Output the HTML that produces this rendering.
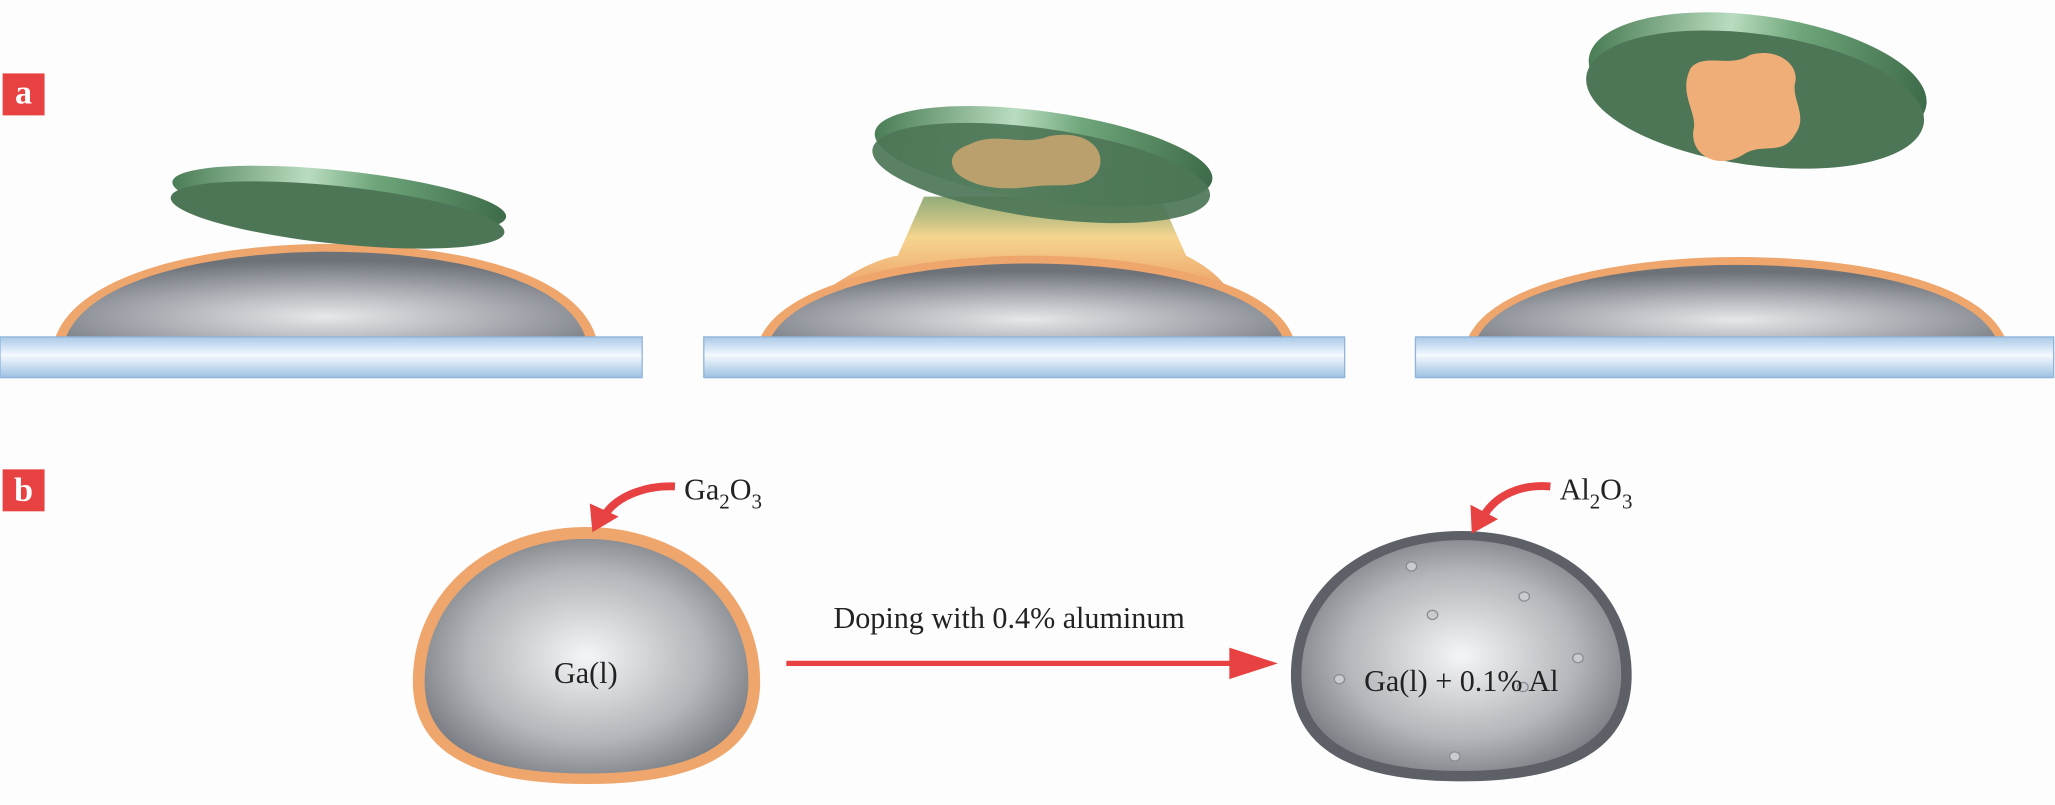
<!DOCTYPE html>
<html><head><meta charset="utf-8"><style>
html,body{margin:0;padding:0;background:#fdfdfd;}
svg{display:block;}
text{font-family:"Liberation Serif",serif;fill:#222;}
</style></head><body>
<svg width="2055" height="805" viewBox="0 0 1568 614" preserveAspectRatio="none" xmlns="http://www.w3.org/2000/svg">
<defs>
<linearGradient id="bar" x1="0" y1="0" x2="0" y2="1">
<stop offset="0" stop-color="#a9c9e8"/><stop offset="0.45" stop-color="#f4f9fd"/><stop offset="1" stop-color="#9dc0e3"/></linearGradient>
<radialGradient id="drop" cx="0.5" cy="0.75" r="0.65">
<stop offset="0" stop-color="#e6e8ea"/><stop offset="0.6" stop-color="#a0a4aa"/><stop offset="1" stop-color="#6d7178"/></radialGradient>
<radialGradient id="dropb" cx="0.5" cy="0.5" r="0.6">
<stop offset="0" stop-color="#f4f5f6"/><stop offset="0.6" stop-color="#b3b6ba"/><stop offset="1" stop-color="#6f7379"/></radialGradient>
<linearGradient id="rim" x1="0" y1="0" x2="1" y2="0">
<stop offset="0" stop-color="#4a7d55"/><stop offset="0.4" stop-color="#b9dcc0"/><stop offset="0.6" stop-color="#6ea67a"/><stop offset="1" stop-color="#3e6b4a"/></linearGradient>
<linearGradient id="glow" x1="0" y1="0" x2="0" y2="1">
<stop offset="0" stop-color="#7a9a5a" stop-opacity="0.8"/><stop offset="0.45" stop-color="#f5d590"/><stop offset="1" stop-color="#eea66c"/></linearGradient>
</defs>

<rect x="2" y="56" width="32" height="32" fill="#e84142"/>
<text x="18" y="79" font-size="26" text-anchor="middle" style="fill:#fff;font-weight:bold">a</text>
<rect x="2" y="358" width="32" height="32" fill="#e84142"/>
<text x="18" y="382" font-size="26" text-anchor="middle" style="fill:#fff;font-weight:bold">b</text>

<!-- Panel 1 -->
<path d="M42,258 C60,205 170,186 250,186 C340,186 440,205 455,258 Z" fill="#eea66c"/>
<path d="M50,258 C68,210 170,192 250,192 C335,192 432,210 447,258 Z" fill="url(#drop)"/>
<g transform="rotate(6 258 160)">
<ellipse cx="258" cy="152" rx="128" ry="22" fill="url(#rim)"/>
<ellipse cx="258" cy="164" rx="128" ry="22" fill="#4d7657"/>
</g>
<rect x="0" y="257" width="490" height="31" fill="url(#bar)" stroke="#8fb4da"/>

<!-- Panel 2 -->
<path d="M705,150 L885,150 L905,195 Q925,205 935,218 L635,218 Q665,198 685,195 Z" fill="url(#glow)"/>
<path d="M580,258 C600,212 710,195 785,195 C870,195 970,212 987,258 Z" fill="#eea66c"/>
<path d="M588,258 C608,217 710,201 785,201 C865,201 962,217 979,258 Z" fill="url(#drop)"/>
<g transform="rotate(8 795 128)">
<ellipse cx="795" cy="119" rx="130" ry="34" fill="url(#rim)"/>
<ellipse cx="795" cy="132" rx="130" ry="34" fill="#4d7657" opacity="0.92"/>
</g>
<path d="M740,110 C760,100 780,112 800,104 C830,98 845,115 838,130 C830,145 805,140 790,142 C770,145 745,145 730,132 C722,122 728,114 740,110 Z" fill="#b9a06c"/>
<rect x="537" y="257" width="489" height="31" fill="url(#bar)" stroke="#8fb4da"/>

<!-- Panel 3 -->
<path d="M1120,258 C1140,212 1250,196 1325,196 C1410,196 1510,212 1530,258 Z" fill="#eea66c"/>
<path d="M1127,258 C1147,217 1250,202 1325,202 C1405,202 1503,217 1523,258 Z" fill="url(#drop)"/>
<g transform="rotate(8 1340 70)">
<ellipse cx="1340" cy="62" rx="130" ry="50" fill="url(#rim)"/>
<ellipse cx="1340" cy="76" rx="130" ry="50" fill="#4d7657"/>
</g>
<path d="M1290,52 C1300,40 1320,52 1335,42 C1355,36 1372,48 1370,62 C1366,75 1380,88 1370,102 C1360,120 1345,108 1330,118 C1310,130 1290,118 1292,100 C1296,86 1280,72 1290,52 Z" fill="#efae78"/>
<rect x="1080" y="257" width="487" height="31" fill="url(#bar)" stroke="#8fb4da"/>

<!-- Panel b left droplet -->
<path d="M447,402 C520,402 580,450 580,520 C580,570 540,598 447,598 C355,598 315,570 315,520 C315,450 375,402 447,402 Z" fill="#eea66c"/>
<path d="M447,411 C515,411 571,455 571,520 C571,565 535,590 447,590 C360,590 324,565 324,520 C324,455 380,411 447,411 Z" fill="url(#dropb)"/>
<text x="447" y="521" font-size="23" text-anchor="middle">Ga(l)</text>
<path d="M515,371 C490,370 470,380 462,392" stroke="#e84142" stroke-width="6" fill="none"/>
<path d="M452,406 L450,384 L472,394 Z" fill="#e84142"/>
<text x="522" y="381" font-size="23">Ga<tspan font-size="16" dy="7">2</tspan><tspan dy="-7">O</tspan><tspan font-size="16" dy="7">3</tspan></text>

<!-- horizontal arrow -->
<line x1="600" y1="506" x2="942" y2="506" stroke="#e84142" stroke-width="4"/>
<path d="M975,506 L938,494 L938,518 Z" fill="#e84142"/>
<text x="770" y="479" font-size="23" text-anchor="middle">Doping with 0.4% aluminum</text>

<!-- right droplet -->
<path d="M1115,405 C1190,405 1245,450 1245,515 C1245,570 1200,596 1115,596 C1030,596 985,570 985,515 C985,450 1040,405 1115,405 Z" fill="#5d6167"/>
<path d="M1115,412 C1185,412 1237,455 1237,515 C1237,563 1196,588 1115,588 C1034,588 993,563 993,515 C993,455 1045,412 1115,412 Z" fill="url(#dropb)"/>
<g fill="#c9cbce" stroke="#8a8d92" stroke-width="1">
<ellipse cx="1077" cy="432" rx="4" ry="3.5"/><ellipse cx="1093" cy="469" rx="4" ry="3.5"/><ellipse cx="1163" cy="455" rx="4" ry="3.5"/>
<ellipse cx="1022" cy="518" rx="4" ry="3.5"/><ellipse cx="1204" cy="502" rx="4" ry="3.5"/><ellipse cx="1162" cy="524" rx="4" ry="3.5"/>
<ellipse cx="1110" cy="577" rx="4" ry="3.5"/>
</g>
<text x="1115" y="527" font-size="23" text-anchor="middle">Ga(l) + 0.1% Al</text>
<path d="M1183,371 C1160,369 1142,378 1133,392" stroke="#e84142" stroke-width="6" fill="none"/>
<path d="M1123,407 L1122,385 L1143,396 Z" fill="#e84142"/>
<text x="1190" y="381" font-size="23">Al<tspan font-size="16" dy="7">2</tspan><tspan dy="-7">O</tspan><tspan font-size="16" dy="7">3</tspan></text>
</svg>
</body></html>
